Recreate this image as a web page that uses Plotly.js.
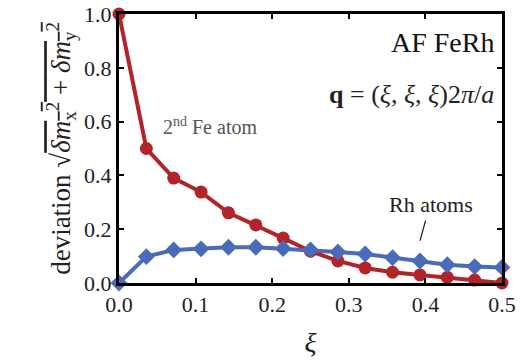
<!DOCTYPE html>
<html><head><meta charset="utf-8">
<script src="https://cdn.plot.ly/plotly-3.0.1.min.js"></script>
<style>html,body{margin:0;padding:0;background:#fff}</style>
</head><body>
<div id="chart" style="width:523px;height:362px"></div>
<script>
var xi = [0, 0.0357, 0.0714, 0.1071, 0.1429, 0.1786, 0.2143, 0.25, 0.2857, 0.3214, 0.3571, 0.3929, 0.4286, 0.4643, 0.5];
var feDev = [1.0, 0.50, 0.39, 0.338, 0.261, 0.216, 0.167, 0.118, 0.082, 0.056, 0.040, 0.030, 0.021, 0.011, 0.0];
var rhDev = [0.0, 0.098, 0.123, 0.127, 0.133, 0.133, 0.128, 0.123, 0.115, 0.108, 0.094, 0.082, 0.068, 0.061, 0.058];
var xTicks = [0, 0.1, 0.2, 0.3, 0.4, 0.5];
var xTickText = ['0.0', '0.1', '0.2', '0.3', '0.4', '0.5'];
var yTicks = [0, 0.2, 0.4, 0.6, 0.8, 1.0];
var yTickText = ['0.0', '0.2', '0.4', '0.6', '0.8', '1.0'];

var serif = 'Times New Roman, Times, Liberation Serif, DejaVu Serif';
var red = '#b3232a', blue = '#4a6cb8';

var traces = [
  {x: xi, y: feDev, mode: 'lines+markers', cliponaxis: false,
   line: {color: red, width: 4}, marker: {color: red, size: 13, symbol: 'circle'}},
  {x: xi, y: rhDev, mode: 'lines+markers', cliponaxis: false,
   line: {color: blue, width: 4}, marker: {color: blue, size: 13, symbol: 'diamond'}}
];

var axBase = {showgrid: false, zeroline: false, showline: true, linecolor: '#000', linewidth: 3,
  mirror: 'ticks', ticks: 'inside', ticklen: 5, tickwidth: 2, tickcolor: '#000',
  tickfont: {family: serif, size: 22, color: '#222'}};

var layout = {
  width: 523, height: 362,
  margin: {l: 119, r: 21, t: 14, b: 79},
  paper_bgcolor: '#fff', plot_bgcolor: '#fff',
  showlegend: false,
  xaxis: Object.assign({}, axBase, {range: [0, 0.5], tickvals: xTicks, ticktext: xTickText,
    title: {text: '<i>ξ</i>', font: {family: serif, size: 28, color: '#222'}, standoff: 16}}),
  yaxis: Object.assign({}, axBase, {range: [0, 1.0], tickvals: yTicks, ticktext: yTickText,
    title: {text: 'deviation √<span style="text-decoration:overline"><i>δm</i><sub>x</sub><sup>2</sup> + <i>δm</i><sub>y</sub><sup>2</sup></span>',
      font: {family: serif, size: 27, color: '#222'}, standoff: 6}}),
  annotations: [
    {xref: 'paper', yref: 'paper', x: 0.985, y: 0.895, xanchor: 'right', yanchor: 'middle', showarrow: false,
     text: 'AF FeRh', font: {family: serif, size: 28, color: '#111'}},
    {xref: 'paper', yref: 'paper', x: 0.985, y: 0.70, xanchor: 'right', yanchor: 'middle', showarrow: false,
     text: '<b>q</b> = (<i>ξ</i>, <i>ξ</i>, <i>ξ</i>)2<i>π</i>/<i>a</i>', font: {family: serif, size: 26, color: '#222'}},
    {xref: 'paper', yref: 'paper', x: 0.11, y: 0.585, xanchor: 'left', yanchor: 'middle', showarrow: false,
     text: '2<sup>nd</sup> Fe atom', font: {family: serif, size: 20, color: '#555'}},
    {xref: 'paper', yref: 'paper', x: 0.70, y: 0.29, xanchor: 'left', yanchor: 'middle', showarrow: false,
     text: 'Rh atoms', font: {family: serif, size: 22, color: '#222'}},
    {xref: 'paper', yref: 'paper', x: 0.786, y: 0.157, ax: 0.8016, ay: 0.238, axref: 'paper', ayref: 'paper',
     showarrow: true, arrowhead: 0, arrowwidth: 1.2, arrowcolor: '#222', text: ''}
  ]
};

Plotly.newPlot('chart', traces, layout, {displayModeBar: false, staticPlot: true});
</script>
</body></html>
